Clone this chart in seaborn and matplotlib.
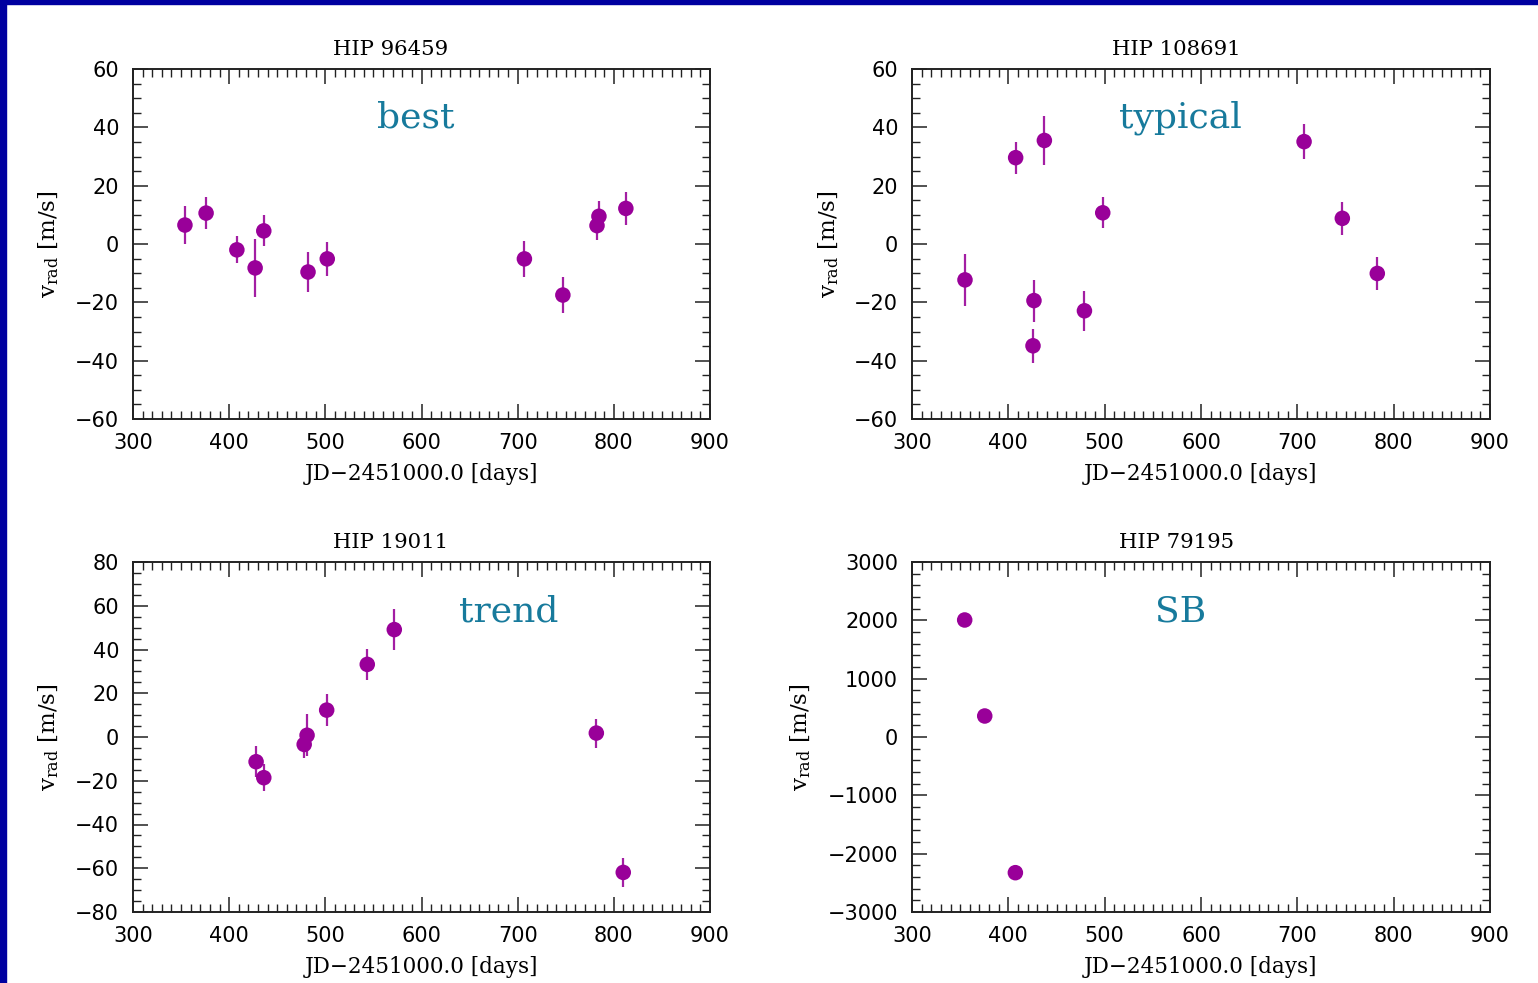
import matplotlib
matplotlib.use("Agg")
import matplotlib.pyplot as plt
import seaborn as sns
import pandas as pd
from matplotlib.ticker import MultipleLocator
from matplotlib.patches import Rectangle

# ---------------- data ----------------
titles = ["HIP 96459", "HIP 108691", "HIP 19011", "HIP 79195"]
labels = ["best", "typical", "trend", "SB"]

t1 = [354, 376, 408, 427, 436, 482, 502, 707, 747, 782.5, 784.5, 812.5]
v1 = [6.5, 10.6, -2.0, -8.2, 4.5, -9.6, -5.1, -5.1, -17.5, 6.3, 9.5, 12.2]
e1 = [6.5, 5.5, 4.6, 10.0, 5.3, 7.0, 5.7, 6.1, 6.1, 5.0, 5.4, 5.8]

t2 = [355, 407.6, 437.4, 426.6, 425.6, 479, 498, 707, 746.7, 783]
v2 = [-12.3, 29.6, 35.5, -19.4, -34.9, -22.9, 10.7, 35.1, 8.8, -10.1]
e2 = [8.8, 5.5, 8.4, 7.2, 5.8, 6.9, 5.3, 5.9, 5.7, 5.5]

t3 = [428, 436, 478, 481, 501.4, 543.6, 571.7, 781.8, 809.8]
v3 = [-11.3, -18.6, -3.4, 0.8, 12.3, 33.2, 49.1, 1.8, -61.9]
e3 = [7.0, 6.3, 6.0, 9.5, 7.2, 7.1, 9.3, 6.6, 6.5]

t4 = [354.7, 375.5, 407.3]
v4 = [2006, 360, -2326]
e4 = [15, 15, 15]

ylims = [(-60, 60), (-60, 60), (-80, 80), (-3000, 3000)]
ymajor = [20, 20, 20, 1000]
yminor = [5, 5, 5, 200]
label_pos = [(594, 43.2), (579, 43.2), (691, 57.6), (579, 2160)]
ylabel_x = [-0.125, -0.123, -0.125, -0.171]
title_x = [0.447, 0.457, 0.447, 0.457]

series = [(t1, v1, e1), (t2, v2, e2), (t3, v3, e3), (t4, v4, e4)]

# ---------------- style ----------------
sns.set_theme(style="ticks")
plt.rcParams['font.family'] = ['DejaVu Sans']
plt.rcParams['axes.unicode_minus'] = True

W, H = 1538, 983
fig = plt.figure(figsize=(W / 100, H / 100), dpi=100)
fig.patch.set_facecolor('white')

rects = [
    [133 / W, 564 / H, 577 / W, 350 / H],
    [912 / W, 564 / H, 578 / W, 350 / H],
    [133 / W, 71 / H, 577 / W, 350 / H],
    [912 / W, 71 / H, 578 / W, 350 / H],
]

serif = 'DejaVu Serif'
purple = '#990099'
teal = '#177a9c'
axcol = '#222222'

for i in range(4):
    ax = fig.add_axes(rects[i])
    t, v, e = series[i]
    df = pd.DataFrame({'t': t, 'v': v, 'e': e})
    ax.errorbar(df['t'], df['v'], yerr=df['e'], fmt='none', ecolor='#a31ea3',
                elinewidth=1.6, capsize=0, zorder=2)
    sns.scatterplot(data=df, x='t', y='v', ax=ax, s=125, color=purple,
                    edgecolor='none', linewidth=0, zorder=3)
    ax.set_xlim(300, 900)
    ax.set_ylim(*ylims[i])
    ax.xaxis.set_major_locator(MultipleLocator(100))
    ax.xaxis.set_minor_locator(MultipleLocator(10))
    ax.yaxis.set_major_locator(MultipleLocator(ymajor[i]))
    ax.yaxis.set_minor_locator(MultipleLocator(yminor[i]))
    ax.tick_params(which='both', direction='in', top=True, right=True,
                   colors=axcol, labelcolor='black')
    ax.tick_params(which='major', length=11, width=1.1, labelsize=15, pad=10)
    ax.tick_params(which='minor', length=5.5, width=1.0)
    for s in ax.spines.values():
        s.set_linewidth(1.4)
        s.set_color(axcol)
    ax.set_facecolor('white')
    ax.grid(False)
    ax.set_title(titles[i], fontfamily=serif, fontsize=15.3, pad=10, color='black',
                 x=title_x[i])
    ax.set_xlabel("JD\u22122451000.0 [days]", fontfamily=serif, fontsize=15.5,
                  labelpad=7, color='black')
    ax.set_ylabel(r"v$_\mathregular{rad}$ [m/s]", fontfamily=serif, fontsize=16.5,
                  color='black')
    ax.yaxis.set_label_coords(ylabel_x[i], 0.5)
    ax.text(label_pos[i][0], label_pos[i][1], labels[i], ha='center', va='center',
            fontfamily=serif, fontsize=26, color=teal)

# dark blue slide frame on left and top edges
fig.patches.append(Rectangle((0, 0), 6 / W, 1, transform=fig.transFigure,
                             color='#0000a0', zorder=10))
fig.patches.append(Rectangle((0, 1 - 4 / H), 1, 4 / H, transform=fig.transFigure,
                             color='#0000a0', zorder=10))

fig.savefig("out.png", dpi=100, facecolor='white')
